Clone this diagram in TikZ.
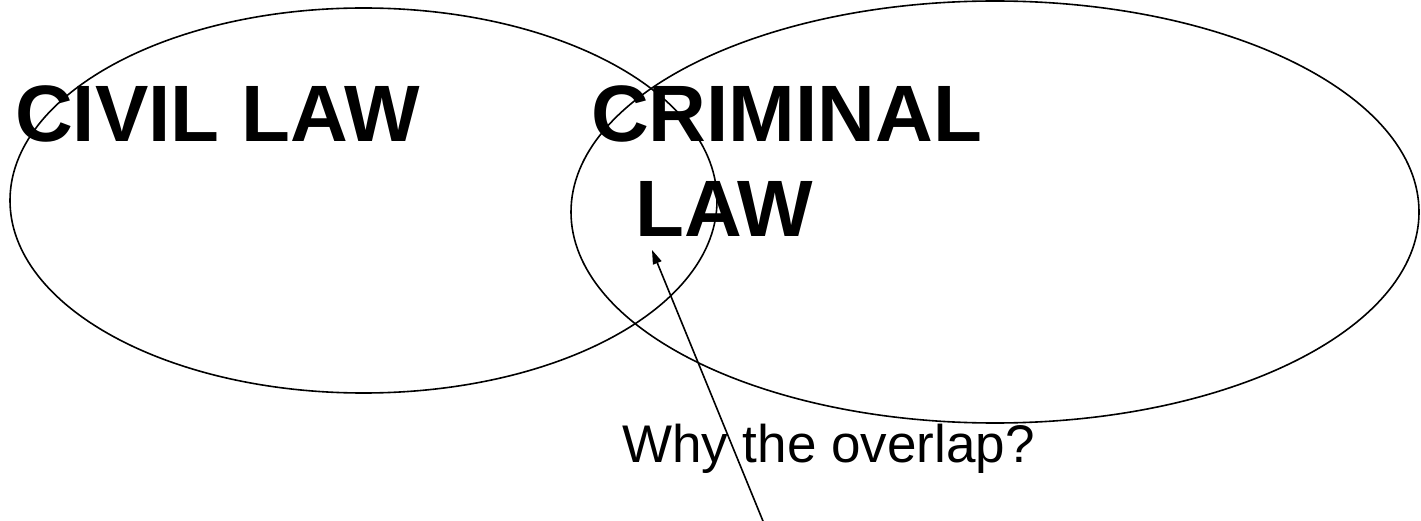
\documentclass[tikz,border=0pt]{standalone}
\usepackage{fontspec}
\setmainfont{Liberation Sans}
\usetikzlibrary{arrows.meta}
\begin{document}
\begin{tikzpicture}[x=1bp,y=-1bp,
  ell/.style={draw=black,line width=1.6bp},
  big/.style={font=\fontsize{80bp}{80bp}\selectfont\bfseries,inner sep=0pt,anchor=base west},
  small/.style={font=\fontsize{53bp}{53bp}\selectfont,inner sep=0pt,anchor=base west},
  arr/.style={draw=black,line width=1.6bp,-{Triangle[length=14bp,width=9bp]}}]
\useasboundingbox (0,0) rectangle (1421,521);
\draw[ell] (363.5,200.5) ellipse [x radius=353.5, y radius=192.5];
\draw[ell] (995,212) ellipse [x radius=424, y radius=211];
\node[big] (civil) at (15,142) {CIVIL LAW};
\node[big] (crim) at (591,142) {CRIMINAL};
\node[big] (law) at (635,237) {LAW};
\node[small] (why) at (622,462) {Why the overlap?};
\coordinate (tail) at (765,526);
\coordinate (tip) at (652,250);
\draw[arr] (tail) -- (tip);
\end{tikzpicture}
\end{document}
